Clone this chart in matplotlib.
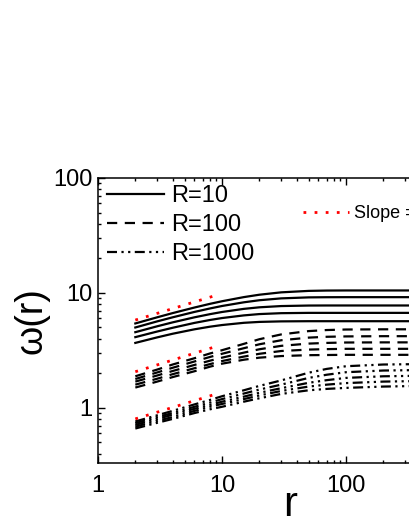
import matplotlib
matplotlib.use("Agg")
import matplotlib.pyplot as plt
from matplotlib.lines import Line2D

plt.rcParams['font.family'] = ['Liberation Sans', 'DejaVu Sans']

# sample positions along r
r_points = [2, 3, 4, 6, 8, 10, 15, 20, 30, 50, 70, 100, 200, 400]

# R = 10 (solid)
omega_R10 = [
    [5.42, 6.13, 6.67, 7.46, 8.03, 8.46, 9.19, 9.64, 10.11, 10.41, 10.48, 10.5, 10.5, 10.5],
    [5.00, 5.65, 6.13, 6.83, 7.32, 7.69, 8.28, 8.63, 8.96, 9.14, 9.17, 9.18, 9.18, 9.18],
    [4.55, 5.12, 5.54, 6.13, 6.53, 6.82, 7.26, 7.49, 7.68, 7.76, 7.77, 7.77, 7.77, 7.77],
    [4.12, 4.61, 4.97, 5.48, 5.81, 6.04, 6.37, 6.54, 6.66, 6.70, 6.70, 6.70, 6.70, 6.70],
    [3.67, 4.10, 4.41, 4.82, 5.08, 5.25, 5.49, 5.59, 5.65, 5.67, 5.67, 5.67, 5.67, 5.67],
]

# R = 100 (dashed)
omega_R100 = [
    [1.88, 2.15, 2.38, 2.70, 2.97, 3.17, 3.60, 3.95, 4.35, 4.65, 4.75, 4.80, 4.82, 4.82],
    [1.78, 2.03, 2.23, 2.53, 2.77, 2.95, 3.30, 3.57, 3.87, 4.08, 4.15, 4.18, 4.20, 4.20],
    [1.69, 1.91, 2.09, 2.36, 2.57, 2.73, 3.02, 3.23, 3.46, 3.62, 3.67, 3.70, 3.71, 3.71],
    [1.59, 1.79, 1.96, 2.21, 2.40, 2.55, 2.79, 2.95, 3.12, 3.21, 3.24, 3.26, 3.26, 3.26],
    [1.50, 1.69, 1.85, 2.08, 2.28, 2.42, 2.62, 2.73, 2.82, 2.87, 2.88, 2.89, 2.89, 2.89],
]

# R = 1000 (dash-dot-dot)
omega_R1000 = [
    [0.760, 0.86, 0.94, 1.07, 1.17, 1.26, 1.42, 1.55, 1.73, 2.02, 2.18, 2.30, 2.38, 2.40],
    [0.735, 0.83, 0.90, 1.02, 1.11, 1.19, 1.33, 1.44, 1.59, 1.82, 1.94, 2.04, 2.11, 2.13],
    [0.710, 0.80, 0.87, 0.98, 1.06, 1.13, 1.25, 1.35, 1.48, 1.65, 1.74, 1.82, 1.88, 1.90],
    [0.685, 0.77, 0.83, 0.94, 1.02, 1.08, 1.19, 1.28, 1.40, 1.53, 1.59, 1.64, 1.69, 1.71],
    [0.660, 0.74, 0.80, 0.90, 0.97, 1.02, 1.13, 1.21, 1.32, 1.42, 1.46, 1.49, 1.53, 1.55],
]

# slope = 1/3 guide lines (end points)
slope_r = [2, 8.6]
slope_lines = [
    [5.8, 9.4],
    [2.06, 3.37],
    [0.80, 1.30],
]

fig = plt.figure(figsize=(4.09, 5.29), dpi=100)
ax = fig.add_axes([98 / 409, 66.5 / 529, 372 / 409, 284.5 / 529])

lw = 1.6
dash_style = (0, (4.6, 3.4))
dashdot_style = (0, (4.5, 2.0, 1.0, 2.0, 1.0, 2.0))

for ys in omega_R10:
    ax.plot(r_points, ys, color='black', lw=lw, linestyle='-')
for ys in omega_R100:
    ax.plot(r_points, ys, color='black', lw=lw, linestyle=dash_style)
for ys in omega_R1000:
    ax.plot(r_points, ys, color='black', lw=lw, linestyle=dashdot_style)
for ys in slope_lines:
    ax.plot(slope_r, ys, color='red', lw=2.0, linestyle=(0, (1, 3)))

ax.set_xscale('log')
ax.set_yscale('log')
ax.set_xlim(1, 1000)
ax.set_ylim(0.334, 100)

ax.set_xticks([1, 10, 100, 1000])
ax.set_xticklabels(['1', '10', '100', ''])
ax.set_yticks([1, 10, 100])
ax.set_yticklabels(['1', '10', '100'])
ax.tick_params(which='both', direction='in', top=True, right=True, width=1.0)
ax.tick_params(which='major', length=5, labelsize=17)
ax.tick_params(which='minor', length=2.5)
ax.tick_params(axis='x', which='major', pad=9)
ax.tick_params(axis='y', which='major', pad=4)
for sp in ax.spines.values():
    sp.set_linewidth(1.1)

ax.set_xlabel('r', fontsize=30)
ax.xaxis.set_label_coords((290 - 98) / 372, -0.08)
ax.set_ylabel('ω(r)', fontsize=27)
ax.yaxis.set_label_coords(-0.13, 0.5)

handles = [
    Line2D([], [], color='black', lw=lw, linestyle='-'),
    Line2D([], [], color='black', lw=lw, linestyle=dash_style),
    Line2D([], [], color='black', lw=lw, linestyle=dashdot_style),
]
leg1 = ax.legend(handles, ['R=10', 'R=100', 'R=1000'], loc='upper left',
                 bbox_to_anchor=(107 / 409, 1 - 185 / 529), bbox_transform=fig.transFigure,
                 frameon=False, fontsize=17, handlelength=2.4, handletextpad=0.3,
                 labelspacing=0.3, borderpad=0, borderaxespad=0)
ax.add_artist(leg1)

slope_handle = Line2D([], [], color='red', lw=2.0, linestyle=(0, (1, 3)))
ax.legend([slope_handle], ['Slope = 1/3'], loc='center left',
          bbox_to_anchor=(303 / 409, 1 - 214 / 529), bbox_transform=fig.transFigure,
          frameon=False, fontsize=13, handlelength=2.55, handletextpad=0.3,
          borderpad=0, borderaxespad=0)

fig.savefig('out.png', dpi=100)
